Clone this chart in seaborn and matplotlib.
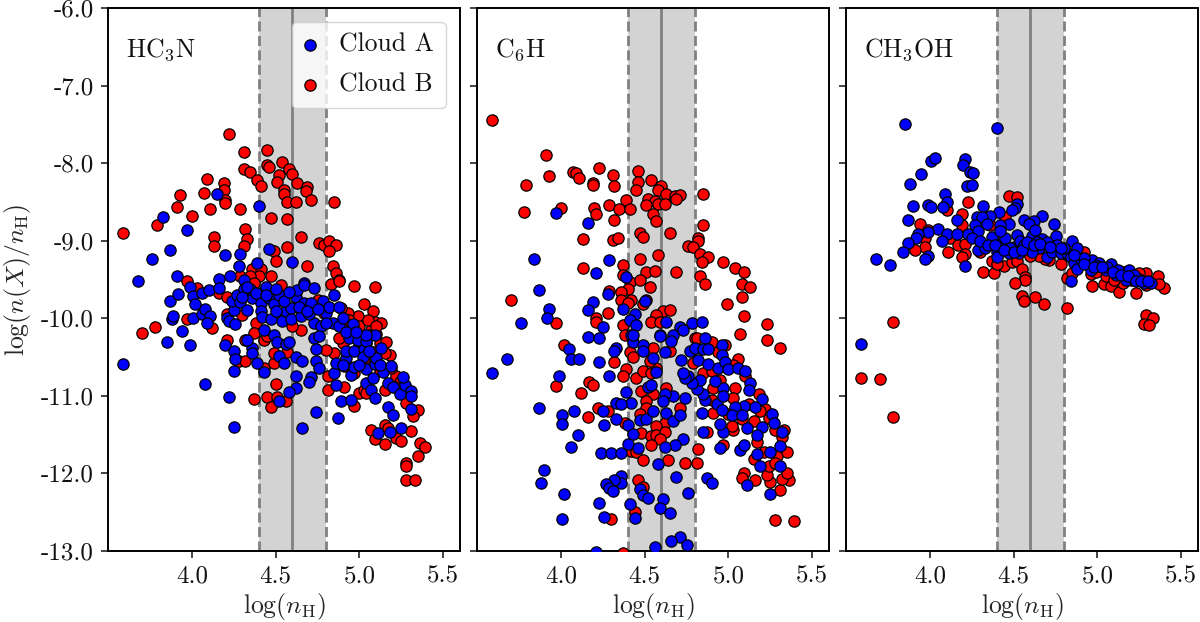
import matplotlib
matplotlib.use("Agg")
import matplotlib.pyplot as plt
import pandas as pd
import seaborn as sns

sns.set_theme(style="white")
plt.rcParams.update({
    "font.family": ["cmr10", "DejaVu Serif"],
    "mathtext.fontset": "cm",
    "axes.unicode_minus": False,
    "axes.formatter.use_mathtext": True,
    "axes.edgecolor": "black",
    "text.color": "#111111",
    "xtick.color": "#111111",
    "ytick.color": "#111111",
})

species = [r"HC$_3$N", r"C$_6$H", r"CH$_3$OH"]
cloud_names = ["Cloud A", "Cloud B"]
x_ticks = [4.0, 4.5, 5.0, 5.5]
x_tick_labels = ["4.0", "4.5", "5.0", "5.5"]
y_ticks = [-6, -7, -8, -9, -10, -11, -12, -13]
y_tick_labels = ["-6.0", "-7.0", "-8.0", "-9.0", "-10.0", "-11.0", "-12.0", "-13.0"]
band_low, band_mid, band_high = 4.4, 4.6, 4.8

hc3n_b = [(3.59,-8.90),(4.22,-7.62),(4.31,-7.85),(4.45,-7.83),(4.54,-7.98),(4.31,-8.07),(4.35,-8.12),(4.45,-8.03),(4.46,-8.05),
(4.58,-8.07),(4.52,-8.15),(4.60,-8.14),(4.09,-8.21),(4.19,-8.26),(4.39,-8.22),(4.41,-8.29),(4.51,-8.24),(4.63,-8.25),(4.69,-8.31),
(4.68,-8.36),(4.19,-8.34),(3.93,-8.41),(4.07,-8.39),(4.55,-8.35),(4.55,-8.40),(4.20,-8.47),(4.20,-8.51),(4.57,-8.50),(4.62,-8.50),
(4.71,-8.48),(4.85,-8.50),(3.91,-8.56),(4.11,-8.59),(4.29,-8.59),(4.0,-8.68),(3.79,-8.80),(4.47,-8.71),(4.57,-8.72),(4.32,-8.85),
(4.13,-8.95),(4.33,-8.98),(4.65,-8.95),(4.13,-9.07),(4.31,-9.07),(4.76,-9.03),(4.79,-9.06),(4.82,-9.01),(4.86,-9.05),(4.82,-9.13),
(4.57,-9.08),(4.49,-9.13),(4.50,-9.26),(4.69,-9.32),(4.84,-9.32),(4.86,-9.42),(4.36,-9.37),(4.41,-9.36),(4.88,-9.50),(3.97,-9.52),
(4.40,-9.45),(4.47,-9.46),(4.35,-9.46),(4.29,-9.45),
(3.70,-10.19),(3.78,-10.11),(3.97,-10.01),(4.12,-10.12),(4.21,-10.28),(4.21,-9.95),(4.30,-9.96),(4.32,-10.28),(4.28,-10.55),(4.32,-10.55),
(4.37,-11.04),(4.45,-11.02),(4.47,-11.14),(4.51,-11.02),(4.56,-11.07),(4.50,-10.85),(4.43,-10.64),(4.49,-10.58),(4.81,-10.74),(4.81,-10.92),
(4.91,-10.88),(4.97,-11.13),(5.00,-10.96),(5.03,-9.81),(5.08,-9.90),(4.97,-9.58),(5.09,-9.60),(4.83,-9.56),(4.88,-9.52),(4.99,-9.97),
(5.09,-10.05),(5.13,-10.06),(5.07,-10.15),(5.15,-11.38),(5.07,-11.44),(5.17,-11.42),(5.09,-11.55),(5.15,-11.62),(5.22,-11.54),(5.25,-11.58),
(5.31,-11.45),(5.36,-11.61),(5.39,-11.66),(5.35,-11.77),(5.28,-11.87),(5.28,-11.91),(5.28,-12.09),(5.33,-12.08),(5.35,-11.18),(5.32,-11.26),
(5.28,-11.09),(5.22,-10.75),(5.19,-10.64),(5.18,-10.47),(5.12,-10.32),(5.04,-10.32),(5.08,-10.43),(5.03,-10.53),(4.97,-10.71),(4.91,-10.62),
(4.85,-10.45),(4.80,-10.41),(4.90,-10.32),(4.93,-9.93),(4.89,-9.87),(4.75,-9.76),(4.79,-9.93),(4.65,-10.15),(4.57,-10.43),(4.49,-10.45),
(4.43,-10.28),(4.38,-10.06),(4.37,-10.19),(4.53,-9.57),(4.37,-9.54),(4.16,-9.67),(4.03,-9.61),(4.21,-9.72),(4.45,-10.23),(5.03,-10.92),
(5.04,-10.96),(5.15,-10.92),(5.10,-10.20),(5.15,-10.45),(5.12,-10.68),(5.26,-10.95),(4.95,-10.10),(5.00,-10.35),(4.60,-10.10),
(4.94,-10.02),(5.00,-10.10),(5.05,-10.02),(5.10,-10.10),(5.16,-10.30),(5.06,-10.22),(5.24,-10.82),(5.21,-10.88),(4.88,-10.26)]

hc3n_a = [(4.15,-8.40),(4.40,-8.55),(3.83,-8.70),(3.97,-8.86),(3.87,-9.12),(3.76,-9.23),(4.20,-9.19),(4.29,-9.17),(4.46,-9.11),(4.39,-9.29),
(4.28,-9.33),(4.60,-9.28),(3.68,-9.52),(3.91,-9.46),(4.16,-9.49),(4.23,-9.46),(4.31,-9.51),(4.67,-9.54),
(3.59,-10.59),(3.87,-9.78),(3.92,-9.69),(3.88,-10.01),(3.89,-9.97),(3.94,-10.17),(3.85,-10.31),(3.99,-10.34),(3.99,-9.60),(4.01,-9.99),
(4.01,-9.71),(4.02,-9.82),(4.06,-9.67),(4.10,-9.64),(4.06,-9.94),(4.08,-9.88),(4.11,-9.97),(4.09,-10.06),(4.08,-10.85),(4.22,-11.01),
(4.25,-11.40),(4.16,-9.61),(4.20,-10.34),(4.25,-10.42),(4.26,-10.52),(4.25,-10.68),(4.36,-10.38),(4.36,-10.45),(4.33,-10.28),(4.39,-10.58),
(4.43,-10.69),(4.21,-10.0),(4.22,-10.03),(4.26,-10.07),(4.25,-9.89),(4.24,-9.78),(4.27,-9.70),(4.29,-9.79),(4.33,-9.89),(4.36,-9.74),
(4.41,-9.68),(4.47,-9.65),(4.41,-9.80),(4.46,-9.74),(4.49,-9.81),(4.52,-9.70),(4.41,-9.90),(4.42,-9.98),(4.47,-10.01),(4.54,-10.03),
(4.56,-9.91),(4.59,-10.01),(4.62,-9.72),(4.59,-9.87),(4.65,-9.97),(4.63,-9.63),(4.67,-9.57),(4.73,-9.61),(4.67,-9.80),(4.71,-9.80),
(4.78,-9.78),(4.73,-10.06),(4.77,-10.10),(4.80,-9.93),(4.82,-9.85),(4.85,-9.70),(4.88,-9.85),(4.84,-10.06),(4.88,-10.10),(4.96,-10.08),
(4.73,-10.25),(4.76,-10.23),(4.74,-10.40),(4.43,-10.15),(4.49,-10.21),(4.51,-10.30),(4.56,-10.33),(4.58,-10.31),(4.52,-10.49),(4.55,-10.57),
(4.62,-10.50),(4.66,-10.55),(4.74,-10.55),(4.76,-10.64),(4.62,-10.74),(4.71,-10.76),(4.70,-10.82),(4.62,-10.90),(4.58,-10.95),(4.52,-11.06),
(4.74,-11.21),(4.66,-11.41),(4.87,-11.28),(4.89,-11.06),(4.95,-11.05),(4.86,-10.86),(4.85,-10.71),(4.86,-10.58),(4.95,-10.73),(4.97,-10.63),
(4.92,-10.51),(4.92,-10.42),(4.97,-10.42),(5.03,-10.40),(4.94,-10.25),(4.99,-10.28),(5.04,-10.29),(5.09,-10.22),(5.04,-10.21),(5.04,-10.65),
(5.09,-10.59),(5.14,-10.69),(5.19,-10.61),(5.04,-10.83),(5.08,-10.77),(5.07,-10.93),(5.17,-10.84),(5.20,-10.88),(5.24,-10.98),(5.27,-10.86),
(5.26,-10.76),(5.31,-10.94),(5.31,-11.0),(5.31,-11.17),(5.17,-11.14),(5.20,-11.25),(5.25,-11.42),(5.18,-11.47),(5.11,-11.48),(5.09,-11.03),
(5.13,-10.38),(5.10,-10.51),(4.90,-10.00),(4.70,-9.95),(4.50,-9.90),(4.35,-9.62),(4.31,-9.62),(4.44,-9.60),
(4.30,-9.72),(4.33,-9.60),(4.38,-9.68),(4.44,-9.70),(4.50,-9.62),(4.55,-9.78),(4.58,-9.66),(4.64,-9.85),(4.69,-9.90),(4.75,-9.88),
(4.80,-10.06),(4.92,-10.18),(4.98,-10.18),(5.02,-10.50),(5.06,-10.42),(5.12,-10.60),(5.00,-10.60),(4.90,-10.60)]

c6h_b = [(3.59,-7.44),(3.91,-7.89),(4.23,-8.06),(3.93,-8.17),(3.79,-8.28),(4.07,-8.11),(4.09,-8.13),(4.11,-8.19),(4.19,-8.25),(4.19,-8.28),
(4.31,-8.15),(4.32,-8.30),(4.46,-8.10),(4.46,-8.24),(4.45,-8.34),(4.54,-8.22),(4.60,-8.29),(4.58,-8.34),(4.63,-8.40),(4.68,-8.42),(4.71,-8.41),
(4.69,-8.46),(4.85,-8.40),(4.39,-8.48),(4.29,-8.54),(4.35,-8.59),(4.41,-8.59),(4.20,-8.58),(4.21,-8.65),(4.0,-8.58),(3.78,-8.63),(4.52,-8.46),
(4.56,-8.49),(4.51,-8.54),(4.58,-8.53),(4.62,-8.53),(4.55,-8.65),(4.57,-8.74),(4.32,-8.73),(4.85,-8.80),(4.47,-8.90),(4.49,-8.95),(4.65,-8.90),
(4.31,-8.99),(4.34,-8.97),(4.13,-8.98),(4.82,-8.97),(4.82,-9.01),(4.76,-9.07),(4.79,-9.08),(4.83,-9.17),(4.88,-9.21),(4.84,-9.27),(4.58,-9.18),
(4.47,-9.24),(4.37,-9.31),(4.13,-9.35),(4.97,-9.27),(5.04,-9.35),(5.09,-9.40),(4.51,-9.40),(4.56,-9.39),(4.69,-9.40),(4.83,-9.46),(4.86,-9.56),
(4.37,-9.44),(4.41,-9.53),(4.47,-9.51),(4.53,-9.60),(4.40,-9.62),(4.36,-9.66),(4.29,-9.65),(5.08,-9.56),(5.13,-9.60),(5.08,-9.72),(4.99,-9.82),
(3.70,-9.76),(4.36,-9.76),(4.42,-9.77),(4.40,-9.80),(4.49,-9.82),(4.51,-9.76),(4.28,-9.93),(4.21,-9.99),(4.21,-10.05),(3.97,-10.06),(5.09,-9.97),
(5.23,-10.08),(5.07,-10.20),(5.23,-10.28),(4.61,-9.90),(4.65,-9.89),(4.57,-9.96),(4.54,-10.05),(4.59,-10.05),(4.37,-10.09),(4.38,-10.21),(4.80,-10.25),
(4.02,-10.34),(4.32,-10.56),(4.41,-10.44),(4.43,-10.50),(4.55,-10.38),(4.65,-10.42),(4.39,-10.66),(4.37,-10.75),(4.45,-10.77),(4.49,-10.68),
(4.54,-10.70),(4.57,-10.64),(4.53,-10.55),(3.97,-10.87),(4.17,-10.82),(4.19,-10.86),(4.12,-10.96),(4.22,-11.16),(4.28,-11.20),(4.16,-11.27),
(4.48,-10.94),(4.55,-10.97),(4.51,-11.06),(4.51,-11.16),(4.63,-10.90),(4.71,-11.16),(4.47,-11.24),(4.62,-11.35),(4.57,-11.39),(4.48,-11.48),
(4.54,-11.52),(4.57,-11.50),(4.62,-11.47),(4.59,-11.56),(4.54,-11.63),(4.38,-11.35),(4.42,-11.71),(4.45,-11.72),(4.49,-11.83),(4.64,-11.83),
(4.74,-11.87),(4.81,-11.86),(4.82,-11.69),(4.87,-11.47),(4.97,-11.63),(4.46,-12.09),(4.49,-12.18),(4.44,-12.50),(4.30,-12.59),(4.37,-13.02),
(5.28,-12.60),(5.39,-12.61),(5.31,-12.22),(5.36,-12.09),(5.32,-12.07),(5.35,-11.99),(5.25,-12.11),(5.16,-12.08),(5.09,-12.0),(5.08,-12.06),
(5.23,-12.02),(5.24,-11.90),(5.29,-11.78),(5.35,-11.72),(5.21,-11.72),(5.15,-11.81),(5.28,-11.87),(5.17,-11.59),(5.32,-11.53),(5.33,-11.44),
(5.28,-11.44),(5.24,-11.28),(5.22,-11.17),(5.19,-11.20),(5.18,-10.98),(5.03,-11.44),(5.02,-11.39),(5.15,-11.33),(5.0,-11.24),(4.91,-11.22),
(4.90,-11.05),(4.91,-10.90),(5.04,-10.90),(5.03,-11.03),(5.06,-10.53),(5.03,-10.60),(4.98,-10.34),(4.90,-10.31),(4.81,-10.26),(4.79,-10.57),
(4.85,-10.70),(5.31,-10.38),(4.94,-10.44),(5.10,-10.75),(4.90,-10.68),(5.12,-11.10),(4.95,-10.80),(5.08,-11.30)]

c6h_a = [(3.97,-8.64),(4.16,-8.77),(3.84,-9.23),(4.29,-9.25),(4.21,-9.41),(4.39,-9.47),(3.87,-9.64),(4.28,-9.69),(4.19,-9.79),(4.50,-9.78),
(3.93,-9.88),(4.16,-9.89),(4.37,-9.88),(3.92,-10.00),(3.76,-10.06),(4.44,-9.95),(4.41,-10.02),(4.25,-10.11),(4.45,-10.09),(4.63,-10.05),
(4.78,-10.06),(4.84,-10.05),(4.71,-10.11),(4.73,-10.15),(4.67,-10.21),(4.59,-10.22),(4.42,-10.22),(4.16,-10.24),(4.23,-10.26),
(3.59,-10.71),(3.68,-10.53),(4.05,-10.40),(4.06,-10.52),(4.11,-10.52),(3.99,-10.74),(4.23,-10.56),(4.29,-10.74),(4.33,-10.38),(4.32,-10.42),
(4.43,-10.31),(4.43,-10.21),(4.49,-10.34),(4.49,-10.42),(4.55,-10.51),(4.59,-10.23),(4.66,-10.29),(4.62,-10.44),(4.72,-10.54),(4.77,-10.42),
(4.80,-10.38),(4.82,-10.54),(4.86,-10.26),(4.85,-10.39),(4.88,-10.40),(4.96,-10.35),(4.96,-10.47),(4.88,-10.59),(4.94,-10.64),(4.98,-10.56),
(5.0,-10.66),(5.06,-10.64),(5.10,-10.68),(5.13,-10.83),(5.12,-10.92),(5.20,-11.04),(5.16,-11.15),(5.09,-11.13),(5.04,-11.15),(5.02,-11.25),
(5.08,-11.25),(5.11,-11.41),(5.20,-11.40),(5.17,-11.51),(5.26,-11.24),(5.27,-11.35),(5.32,-11.46),(5.31,-11.65),(5.17,-11.75),(5.25,-11.72),
(5.19,-11.91),(5.31,-11.90),(5.11,-12.15),(5.25,-12.26),(5.07,-11.70),(5.09,-11.63),(4.95,-11.67),(4.97,-11.47),(4.95,-11.36),(4.85,-11.46),
(4.84,-11.22),(4.93,-11.11),(4.96,-11.18),(4.97,-10.90),(4.97,-11.00),(4.92,-10.81),(4.86,-11.05),(4.85,-10.97),(4.81,-10.91),(4.83,-10.80),
(4.78,-10.84),(4.76,-10.75),(4.74,-10.77),(4.73,-10.70),(4.74,-11.03),(4.67,-11.0),(4.62,-10.98),(4.61,-11.06),(4.52,-10.89),(4.54,-10.86),
(4.57,-10.69),(4.39,-10.95),(4.42,-11.09),(4.33,-11.09),(4.36,-11.11),(4.25,-11.20),(4.08,-11.20),(4.01,-11.25),(4.01,-11.36),(3.87,-11.16),
(4.10,-11.50),(4.26,-11.38),(4.33,-11.30),(4.40,-11.37),(4.47,-11.31),(4.51,-11.30),(4.55,-11.19),(4.63,-11.22),(4.67,-11.32),(4.71,-11.25),
(4.43,-11.49),(4.40,-11.62),(4.46,-11.67),(4.73,-11.56),(4.68,-11.63),(4.62,-11.66),(4.06,-11.66),(4.24,-11.74),(4.30,-11.74),(4.36,-11.74),
(4.58,-11.88),(3.90,-11.95),(3.88,-12.12),(4.02,-12.26),(4.36,-12.03),(4.36,-12.12),(4.32,-12.09),(4.27,-12.14),(4.29,-12.19),(4.31,-12.23),
(4.69,-12.05),(4.87,-12.06),(4.90,-12.12),(4.76,-12.25),(4.47,-12.20),(4.49,-12.28),(4.52,-12.32),(4.61,-12.33),(4.23,-12.38),(4.41,-12.40),
(4.59,-12.44),(4.65,-12.51),(4.44,-12.57),(4.26,-12.56),(4.01,-12.59),(4.71,-12.82),(4.66,-12.87),(4.75,-12.92),(4.56,-12.95),(4.21,-13.01)]

ch3oh_b = [(4.47,-8.42),(4.52,-8.44),(4.23,-8.50),(4.10,-8.61),(4.19,-8.66),(4.45,-8.70),(3.94,-8.78),(4.19,-8.80),(3.99,-8.86),(4.36,-8.80),
(3.97,-8.97),(3.97,-9.08),(3.91,-9.12),(4.11,-9.15),(4.12,-8.97),(4.17,-9.06),(4.21,-9.04),(4.21,-9.17),(4.19,-9.21),(4.37,-9.26),(4.32,-9.40),
(4.38,-9.41),(4.44,-9.33),(4.49,-9.27),(4.52,-9.26),(4.55,-9.36),(4.57,-9.47),(4.57,-9.51),(4.51,-9.54),(4.55,-9.71),(4.56,-9.78),(4.63,-9.73),
(4.68,-9.81),(4.82,-9.87),(4.82,-9.48),(4.71,-9.25),(4.69,-9.24),(4.92,-9.15),(4.85,-9.42),(4.96,-9.43),(4.97,-9.58),(5.04,-9.56),(5.08,-9.58),
(5.13,-9.66),(5.23,-9.67),(5.15,-9.55),(5.29,-9.57),(5.36,-9.46),(5.40,-9.61),(5.37,-9.56),(5.29,-9.42),(5.25,-9.42),(5.29,-9.96),(5.33,-10.0),
(5.28,-10.07),(5.31,-10.09),(3.78,-10.05),(3.59,-10.77),(3.70,-10.78),(3.78,-11.27),(5.05,-9.46),(4.99,-9.40),(5.10,-9.50),(5.20,-9.50),
(4.65,-9.20),(4.30,-9.15),(4.40,-9.30),(4.60,-9.20),(4.78,-9.30)]

ch3oh_a = [(3.85,-7.49),(4.40,-7.55),(4.01,-7.97),(4.03,-7.94),(4.21,-7.95),(4.20,-8.02),(4.24,-8.12),(4.26,-8.13),(3.95,-8.14),(3.88,-8.27),
(4.22,-8.30),(4.25,-8.28),(4.09,-8.40),(4.10,-8.50),(3.99,-8.54),(4.01,-8.56),(3.90,-8.55),(4.08,-8.56),(4.32,-8.55),(4.52,-8.53),(4.51,-8.58),
(4.49,-8.61),(4.41,-8.63),(4.36,-8.68),(4.28,-8.70),(4.31,-8.69),(4.16,-8.73),(3.87,-8.73),(4.56,-8.73),(4.67,-8.68),(4.62,-8.74),(4.74,-8.79),
(4.59,-8.79),(4.47,-8.79),(4.27,-8.80),(4.34,-8.79),(4.42,-8.80),(4.05,-8.85),(3.99,-8.89),(3.93,-8.91),(4.10,-8.91),(4.16,-8.91),(3.92,-8.96),
(4.07,-9.0),(3.87,-9.03),(3.84,-9.15),(3.68,-9.24),(3.76,-9.31),(3.99,-9.20),(3.97,-9.23),(4.21,-9.33),(4.23,-8.91),(4.29,-8.87),(4.25,-8.97),
(4.29,-9.12),(4.33,-9.10),(4.30,-9.01),(4.37,-8.95),(4.40,-9.14),(4.40,-9.21),(4.43,-9.03),(4.47,-9.16),(4.53,-9.16),(4.50,-9.08),(4.45,-8.97),
(4.42,-8.88),(4.52,-8.93),(4.54,-9.01),(4.61,-8.94),(4.59,-9.08),(4.63,-8.86),(4.67,-8.98),(4.75,-8.94),(4.76,-9.05),(4.70,-9.21),(4.73,-9.14),
(4.65,-9.10),(4.61,-9.14),(4.78,-9.16),(4.82,-9.16),(4.85,-9.0),(4.88,-9.09),(4.84,-9.21),(4.86,-9.29),(4.88,-9.36),(4.84,-9.52),(4.90,-9.24),
(4.94,-9.29),(4.96,-9.38),(4.97,-9.25),(5.01,-9.29),(5.05,-9.38),(5.08,-9.30),(5.11,-9.44),(5.15,-9.40),(5.19,-9.38),(5.17,-9.51),(5.21,-9.48),
(5.25,-9.49),(5.28,-9.54),(5.32,-9.54),(3.59,-10.33),(4.35,-9.05),(4.48,-9.10),(4.56,-9.05),(4.64,-9.02),(4.70,-9.02),(4.80,-9.10),(4.92,-9.22),
(5.00,-9.32),(5.06,-9.34),(5.12,-9.38),(5.22,-9.44),
(4.39,-9.06),(4.44,-9.12),(4.50,-9.15),(4.55,-9.12),(4.58,-9.02),(4.62,-9.06),(4.66,-9.04),(4.72,-9.08),(4.78,-9.10),(4.86,-9.18),(4.92,-9.30),
(4.98,-9.34),(5.03,-9.34),(5.09,-9.40),(5.14,-9.44),(5.18,-9.46),(5.23,-9.52),(5.26,-9.52),(5.30,-9.52)]

panels = [(hc3n_a, hc3n_b), (c6h_a, c6h_b), (ch3oh_a, ch3oh_b)]

W, H = 1200, 622
lefts = [108, 477, 846]
fig = plt.figure(figsize=(12, 6.22), dpi=100)
for i, (name, (cloud_a, cloud_b)) in enumerate(zip(species, panels)):
    ax = fig.add_axes([lefts[i] / W, 1 - 551 / H, 352 / W, 543 / H])
    ax.axvspan(band_low, band_high, color="#d3d3d3", lw=0, zorder=0)
    ax.axvline(band_mid, color="#808080", lw=2, zorder=1)
    for v in (band_low, band_high):
        ax.axvline(v, color="#808080", lw=2, ls=(0, (3.6, 1.6)), zorder=1)
    df_b = pd.DataFrame(cloud_b, columns=["x", "y"])
    df_a = pd.DataFrame(cloud_a, columns=["x", "y"])
    sns.scatterplot(data=df_b, x="x", y="y", ax=ax, color="#ff0000", edgecolor="black",
                    s=66, linewidth=0.9, label=cloud_names[1], zorder=3)
    sns.scatterplot(data=df_a, x="x", y="y", ax=ax, color="#0000ff", edgecolor="black",
                    s=66, linewidth=0.9, label=cloud_names[0], zorder=4)
    ax.set_xlim(3.5, 5.6)
    ax.set_ylim(-13, -6)
    ax.set_xticks(x_ticks)
    ax.set_xticklabels(x_tick_labels, fontsize=18)
    ax.set_yticks(y_ticks)
    ax.set_xlabel(r"$\log(n_{\rm H})$", fontsize=18.5, labelpad=3)
    if i == 0:
        ax.set_yticklabels(y_tick_labels, fontsize=18)
        ax.set_ylabel(r"$\log(n(X)/n_{\rm H})$", fontsize=18.5, labelpad=6)
    else:
        ax.set_yticklabels([])
        ax.set_ylabel("")
    ax.tick_params(axis="both", direction="out", length=5, width=1.1, left=True, bottom=True, pad=5)
    for s in ax.spines.values():
        s.set_linewidth(1.4)
        s.set_color("black")
    ax.text(0.05, 0.923, name, transform=ax.transAxes, fontsize=18.5, va="center", ha="left", zorder=6)
    if i == 0:
        h, l = ax.get_legend_handles_labels()
        ax.legend(h[::-1], l[::-1], loc="upper left", bbox_to_anchor=(0.522, 0.975), fontsize=18.5,
                  frameon=True, framealpha=0.8, borderaxespad=0, labelspacing=0.62,
                  handletextpad=0.9, borderpad=0.45, handlelength=0.5).set_zorder(5)
    else:
        ax.get_legend().remove()

fig.savefig("out.png", dpi=100)
